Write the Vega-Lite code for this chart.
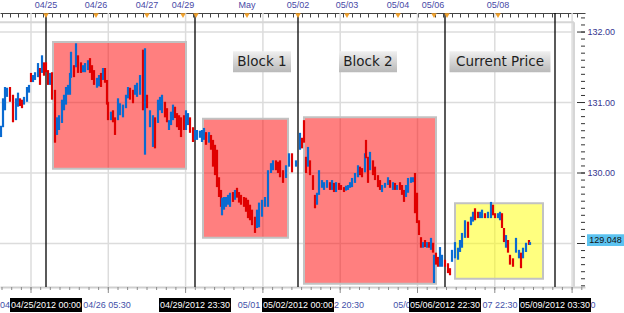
{
"$schema":"https://vega.github.io/schema/vega-lite/v6.json",
"width":585,"height":274,"autosize":"none",
"padding":{"left":0,"top":13,"right":39,"bottom":26},
"background":"#ffffff",
"config":{"view":{"stroke":null},"axis":{"labelFont":"Liberation Sans","labelFontSize":9}},
"datasets":{
"blk":[{"t0":53,"t1":186,"hi":131.86,"lo":130.06,"k":"r"},{"t0":203,"t1":288,"hi":130.77,"lo":129.08,"k":"r"},{"t0":304,"t1":436,"hi":130.79,"lo":128.43,"k":"r"},{"t0":455,"t1":543,"hi":129.57,"lo":128.50,"k":"y"}],
"ev":[{"t":46,"lab":"04/25/2012 00:00"},{"t":195,"lab":"04/29/2012 23:30"},{"t":298,"lab":"05/02/2012 00:00"},{"t":445,"lab":"05/06/2012 22:30"},{"t":555,"lab":"05/09/2012 03:30"}],
"bl":[{"t":5,"lab":"04"},{"t":107,"lab":"04/26 05:30"},{"t":249,"lab":"05/01"},{"t":349,"lab":"2 20:30"},{"t":402,"lab":"05/0"},{"t":500,"lab":"07 22:30"},{"t":593,"lab":"0"}],
"lbl":[{"t":262,"p":131.58,"lab":"Block 1"},{"t":368,"p":131.58,"lab":"Block 2"},{"t":500,"p":131.58,"lab":"Current Price"}],
"top":[{"t":46,"lab":"04/25"},{"t":96,"lab":"04/26"},{"t":147,"lab":"04/27"},{"t":183,"lab":"04/29"},{"t":247,"lab":"May"},{"t":298,"lab":"05/02"},{"t":347,"lab":"05/03"},{"t":398,"lab":"05/04"},{"t":433,"lab":"05/06"},{"t":498,"lab":"05/08"}],
"tri":[{"t":46},{"t":96},{"t":147},{"t":183},{"t":196},{"t":247},{"t":298},{"t":347},{"t":398},{"t":434},{"t":447},{"t":498}],
"xt":[{"t":2},{"t":11.7},{"t":21.4},{"t":31},{"t":40.7},{"t":50.3},{"t":60},{"t":69.7},{"t":79.3},{"t":89},{"t":98.6},{"t":108.3},{"t":118},{"t":127.6},{"t":137.3},{"t":147},{"t":156.6},{"t":166.3},{"t":175.9},{"t":185.6},{"t":195.3},{"t":204.9},{"t":214.6},{"t":224.3},{"t":233.9},{"t":243.6},{"t":253.2},{"t":262.9},{"t":272.6},{"t":282.2},{"t":291.9},{"t":301.6},{"t":311.2},{"t":320.9},{"t":330.5},{"t":340.2},{"t":349.9},{"t":359.5},{"t":369.2},{"t":378.9},{"t":388.5},{"t":398.2},{"t":407.8},{"t":417.5},{"t":427.2},{"t":436.8},{"t":446.5},{"t":456.2},{"t":465.8},{"t":475.5},{"t":485.1},{"t":494.8},{"t":504.5},{"t":514.1},{"t":523.8},{"t":533.5},{"t":543.1},{"t":552.8},{"t":562.4},{"t":572.1},{"t":581.8}],
"yt":[{"p":128.4},{"p":128.5},{"p":128.6},{"p":128.7},{"p":128.8},{"p":128.9},{"p":129},{"p":129.1},{"p":129.2},{"p":129.3},{"p":129.4},{"p":129.5},{"p":129.6},{"p":129.7},{"p":129.8},{"p":129.9},{"p":130},{"p":130.1},{"p":130.2},{"p":130.3},{"p":130.4},{"p":130.5},{"p":130.6},{"p":130.7},{"p":130.8},{"p":130.9},{"p":131},{"p":131.1},{"p":131.2},{"p":131.3},{"p":131.4},{"p":131.5},{"p":131.6},{"p":131.7},{"p":131.8},{"p":131.9},{"p":132},{"p":132.1},{"p":132.2}],
"last":[{"p":129.048}],
"px":[
{"t":1,"h":130.67,"l":130.51,"d":"u"},{"t":3,"h":131.06,"l":130.65,"d":"u"},{"t":5,"h":131.22,"l":130.89,"d":"u"},{"t":7,"h":131.21,"l":131.08,"d":"u"},{"t":10,"h":131.22,"l":131.01,"d":"d"},{"t":13,"h":131.11,"l":130.72,"d":"d"},{"t":16,"h":131.06,"l":130.75,"d":"u"},{"t":18,"h":131.14,"l":130.94,"d":"u"},{"t":20,"h":131.06,"l":130.95,"d":"d"},{"t":22,"h":131.04,"l":130.92,"d":"d"},{"t":24,"h":131.08,"l":130.97,"d":"u"},{"t":27,"h":131.22,"l":131.01,"d":"u"},{"t":29,"h":131.25,"l":131.14,"d":"u"},{"t":31,"h":131.42,"l":131.29,"d":"d"},{"t":33,"h":131.39,"l":131.29,"d":"u"},{"t":35,"h":131.43,"l":131.32,"d":"u"},{"t":38,"h":131.56,"l":131.36,"d":"u"},{"t":40,"h":131.49,"l":131.25,"d":"d"},{"t":42,"h":131.67,"l":131.42,"d":"u"},{"t":44,"h":131.57,"l":131.38,"d":"d"},{"t":46,"h":131.57,"l":131.43,"d":"d"},{"t":48,"h":131.46,"l":131.25,"d":"d"},{"t":50,"h":131.42,"l":131.25,"d":"u"},{"t":52,"h":131.43,"l":131.04,"d":"d"},{"t":55,"h":131.18,"l":130.43,"d":"d"},{"t":57,"h":130.79,"l":130.54,"d":"u"},{"t":59,"h":130.82,"l":130.61,"d":"u"},{"t":62,"h":131.04,"l":130.71,"d":"u"},{"t":64,"h":131.11,"l":130.89,"d":"u"},{"t":66,"h":131.22,"l":130.97,"d":"u"},{"t":68,"h":131.25,"l":131.11,"d":"u"},{"t":70,"h":131.42,"l":131.11,"d":"u"},{"t":71,"h":131.72,"l":131.35,"d":"u"},{"t":74,"h":131.53,"l":131.36,"d":"d"},{"t":76,"h":131.84,"l":131.50,"d":"u"},{"t":78,"h":131.67,"l":131.42,"d":"d"},{"t":81,"h":131.57,"l":131.42,"d":"d"},{"t":83,"h":131.53,"l":131.43,"d":"u"},{"t":85,"h":131.56,"l":131.43,"d":"u"},{"t":88,"h":131.60,"l":131.46,"d":"u"},{"t":90,"h":131.63,"l":131.42,"d":"d"},{"t":92,"h":131.53,"l":131.32,"d":"d"},{"t":94,"h":131.46,"l":131.25,"d":"d"},{"t":97,"h":131.35,"l":131.21,"d":"u"},{"t":99,"h":131.39,"l":131.23,"d":"u"},{"t":101,"h":131.42,"l":131.22,"d":"d"},{"t":103,"h":131.49,"l":131.32,"d":"u"},{"t":105,"h":131.49,"l":131.28,"d":"d"},{"t":107,"h":131.32,"l":130.97,"d":"d"},{"t":108,"h":131.01,"l":130.75,"d":"d"},{"t":111,"h":130.87,"l":130.75,"d":"u"},{"t":113,"h":130.89,"l":130.72,"d":"d"},{"t":115,"h":130.79,"l":130.54,"d":"d"},{"t":118,"h":131.06,"l":130.75,"d":"u"},{"t":120,"h":130.99,"l":130.82,"d":"u"},{"t":123,"h":130.97,"l":130.79,"d":"u"},{"t":126,"h":131.11,"l":130.92,"d":"u"},{"t":128,"h":131.22,"l":131.06,"d":"u"},{"t":130,"h":131.21,"l":131.04,"d":"d"},{"t":133,"h":131.18,"l":130.99,"d":"d"},{"t":135,"h":131.25,"l":131.11,"d":"u"},{"t":137,"h":131.28,"l":131.08,"d":"u"},{"t":140,"h":131.39,"l":131.11,"d":"u"},{"t":143,"h":131.75,"l":130.89,"d":"d"},{"t":145,"h":131.77,"l":130.26,"d":"u"},{"t":147,"h":131.11,"l":130.92,"d":"d"},{"t":150,"h":130.89,"l":130.65,"d":"u"},{"t":153,"h":130.82,"l":130.37,"d":"u"},{"t":155,"h":130.79,"l":130.35,"d":"d"},{"t":158,"h":131.04,"l":130.71,"d":"u"},{"t":160,"h":131.08,"l":130.89,"d":"u"},{"t":162,"h":131.11,"l":130.85,"d":"u"},{"t":165,"h":131.01,"l":130.79,"d":"d"},{"t":167,"h":130.92,"l":130.72,"d":"d"},{"t":169,"h":130.75,"l":130.61,"d":"u"},{"t":171,"h":130.87,"l":130.68,"d":"u"},{"t":173,"h":130.97,"l":130.75,"d":"u"},{"t":175,"h":130.94,"l":130.78,"d":"d"},{"t":177,"h":130.85,"l":130.65,"d":"d"},{"t":179,"h":130.82,"l":130.61,"d":"d"},{"t":181,"h":130.79,"l":130.51,"d":"d"},{"t":184,"h":130.82,"l":130.61,"d":"d"},{"t":186,"h":130.89,"l":130.61,"d":"u"},{"t":188,"h":130.85,"l":130.68,"d":"u"},{"t":190,"h":130.79,"l":130.57,"d":"d"},{"t":193,"h":130.65,"l":130.44,"d":"d"},{"t":195,"h":130.61,"l":130.47,"d":"u"},{"t":197,"h":130.61,"l":130.47,"d":"u"},{"t":200,"h":130.60,"l":130.50,"d":"u"},{"t":202,"h":130.61,"l":130.44,"d":"u"},{"t":204,"h":130.64,"l":130.47,"d":"u"},{"t":206,"h":130.58,"l":130.40,"d":"d"},{"t":209,"h":130.58,"l":130.43,"d":"u"},{"t":211,"h":130.54,"l":130.33,"d":"d"},{"t":213,"h":130.47,"l":130.09,"d":"d"},{"t":215,"h":130.40,"l":129.97,"d":"d"},{"t":217,"h":130.33,"l":129.80,"d":"d"},{"t":219,"h":129.94,"l":129.66,"d":"d"},{"t":221,"h":129.76,"l":129.52,"d":"d"},{"t":222,"h":129.65,"l":129.40,"d":"u"},{"t":224,"h":129.66,"l":129.48,"d":"u"},{"t":226,"h":129.66,"l":129.52,"d":"u"},{"t":228,"h":129.69,"l":129.55,"d":"u"},{"t":230,"h":129.72,"l":129.52,"d":"u"},{"t":233,"h":129.73,"l":129.59,"d":"d"},{"t":235,"h":129.76,"l":129.62,"d":"u"},{"t":237,"h":129.79,"l":129.65,"d":"d"},{"t":239,"h":129.73,"l":129.58,"d":"d"},{"t":241,"h":129.69,"l":129.55,"d":"d"},{"t":244,"h":129.66,"l":129.52,"d":"d"},{"t":246,"h":129.65,"l":129.45,"d":"d"},{"t":248,"h":129.62,"l":129.36,"d":"d"},{"t":250,"h":129.55,"l":129.33,"d":"d"},{"t":252,"h":129.48,"l":129.26,"d":"d"},{"t":255,"h":129.38,"l":129.15,"d":"d"},{"t":257,"h":129.48,"l":129.22,"d":"u"},{"t":259,"h":129.58,"l":129.23,"d":"u"},{"t":262,"h":129.62,"l":129.38,"d":"u"},{"t":265,"h":129.66,"l":129.52,"d":"u"},{"t":268,"h":130.04,"l":129.52,"d":"u"},{"t":271,"h":130.14,"l":130.00,"d":"u"},{"t":273,"h":130.18,"l":130.04,"d":"u"},{"t":276,"h":130.18,"l":130.04,"d":"d"},{"t":278,"h":130.16,"l":130.00,"d":"d"},{"t":280,"h":130.18,"l":129.94,"d":"d"},{"t":283,"h":130.04,"l":129.86,"d":"d"},{"t":286,"h":130.11,"l":129.93,"d":"u"},{"t":289,"h":130.28,"l":130.09,"d":"u"},{"t":292,"h":130.28,"l":130.01,"d":"d"},{"t":296,"h":130.18,"l":130.09,"d":"u"},{"t":300,"h":130.57,"l":130.33,"d":"u"},{"t":302,"h":130.50,"l":130.35,"d":"d"},{"t":304,"h":130.75,"l":130.43,"d":"d"},{"t":306,"h":130.23,"l":130.00,"d":"d"},{"t":308,"h":130.37,"l":130.09,"d":"u"},{"t":310,"h":130.18,"l":129.97,"d":"d"},{"t":313,"h":129.97,"l":129.76,"d":"d"},{"t":315,"h":129.69,"l":129.50,"d":"d"},{"t":317,"h":129.72,"l":129.55,"d":"u"},{"t":319,"h":130.04,"l":129.69,"d":"u"},{"t":322,"h":129.90,"l":129.79,"d":"u"},{"t":324,"h":129.87,"l":129.76,"d":"u"},{"t":327,"h":129.90,"l":129.79,"d":"u"},{"t":330,"h":129.87,"l":129.76,"d":"d"},{"t":332,"h":129.90,"l":129.76,"d":"u"},{"t":334,"h":129.86,"l":129.73,"d":"d"},{"t":336,"h":129.87,"l":129.73,"d":"u"},{"t":339,"h":129.86,"l":129.76,"d":"d"},{"t":341,"h":129.83,"l":129.76,"d":"d"},{"t":344,"h":129.80,"l":129.73,"d":"d"},{"t":346,"h":129.82,"l":129.75,"d":"u"},{"t":348,"h":129.83,"l":129.76,"d":"u"},{"t":350,"h":129.87,"l":129.79,"d":"u"},{"t":352,"h":129.93,"l":129.80,"d":"u"},{"t":355,"h":130.00,"l":129.86,"d":"u"},{"t":358,"h":130.11,"l":129.94,"d":"u"},{"t":360,"h":130.09,"l":129.97,"d":"d"},{"t":362,"h":130.07,"l":129.94,"d":"d"},{"t":365,"h":130.28,"l":130.01,"d":"u"},{"t":366,"h":130.47,"l":130.21,"d":"d"},{"t":368,"h":130.23,"l":129.86,"d":"d"},{"t":370,"h":130.30,"l":130.04,"d":"u"},{"t":373,"h":130.18,"l":129.97,"d":"d"},{"t":375,"h":130.09,"l":129.90,"d":"d"},{"t":378,"h":129.97,"l":129.80,"d":"d"},{"t":380,"h":129.90,"l":129.76,"d":"d"},{"t":382,"h":129.83,"l":129.73,"d":"u"},{"t":385,"h":129.86,"l":129.79,"d":"u"},{"t":388,"h":129.94,"l":129.83,"d":"u"},{"t":390,"h":129.90,"l":129.79,"d":"d"},{"t":393,"h":129.87,"l":129.76,"d":"u"},{"t":395,"h":129.86,"l":129.76,"d":"d"},{"t":397,"h":129.83,"l":129.76,"d":"u"},{"t":400,"h":129.87,"l":129.76,"d":"d"},{"t":402,"h":129.83,"l":129.69,"d":"d"},{"t":404,"h":129.76,"l":129.59,"d":"d"},{"t":406,"h":129.83,"l":129.66,"d":"u"},{"t":408,"h":129.93,"l":129.72,"d":"u"},{"t":411,"h":129.94,"l":129.86,"d":"u"},{"t":413,"h":129.94,"l":129.87,"d":"u"},{"t":415,"h":130.00,"l":129.43,"d":"d"},{"t":417,"h":129.72,"l":129.29,"d":"d"},{"t":419,"h":129.33,"l":129.12,"d":"d"},{"t":421,"h":129.09,"l":128.94,"d":"d"},{"t":423,"h":129.02,"l":128.94,"d":"u"},{"t":425,"h":129.05,"l":128.95,"d":"d"},{"t":427,"h":129.02,"l":128.94,"d":"u"},{"t":429,"h":129.02,"l":128.94,"d":"d"},{"t":431,"h":129.08,"l":128.91,"d":"u"},{"t":433,"h":129.01,"l":128.87,"d":"d"},{"t":434,"h":128.84,"l":128.44,"d":"u"},{"t":436,"h":128.87,"l":128.70,"d":"d"},{"t":438,"h":128.81,"l":128.67,"d":"d"},{"t":440,"h":128.95,"l":128.67,"d":"u"},{"t":442,"h":128.84,"l":128.67,"d":"u"},{"t":445,"h":128.77,"l":128.67,"d":"d"},{"t":448,"h":128.72,"l":128.58,"d":"d"},{"t":450,"h":128.65,"l":128.55,"d":"d"},{"t":452,"h":128.91,"l":128.74,"d":"u"},{"t":455,"h":129.02,"l":128.79,"d":"u"},{"t":458,"h":128.94,"l":128.77,"d":"u"},{"t":460,"h":129.05,"l":128.88,"d":"u"},{"t":462,"h":129.15,"l":128.94,"d":"u"},{"t":465,"h":129.33,"l":129.08,"d":"u"},{"t":468,"h":129.31,"l":129.08,"d":"d"},{"t":471,"h":129.38,"l":129.26,"d":"u"},{"t":473,"h":129.45,"l":129.31,"d":"u"},{"t":475,"h":129.50,"l":129.33,"d":"d"},{"t":478,"h":129.45,"l":129.36,"d":"d"},{"t":480,"h":129.45,"l":129.36,"d":"u"},{"t":482,"h":129.48,"l":129.36,"d":"u"},{"t":485,"h":129.43,"l":129.36,"d":"d"},{"t":488,"h":129.45,"l":129.36,"d":"u"},{"t":491,"h":129.59,"l":129.36,"d":"u"},{"t":493,"h":129.55,"l":129.40,"d":"d"},{"t":495,"h":129.43,"l":129.36,"d":"d"},{"t":498,"h":129.43,"l":129.36,"d":"u"},{"t":500,"h":129.45,"l":129.33,"d":"u"},{"t":502,"h":129.43,"l":129.22,"d":"d"},{"t":504,"h":129.22,"l":129.02,"d":"d"},{"t":506,"h":129.12,"l":128.94,"d":"u"},{"t":508,"h":129.05,"l":128.87,"d":"d"},{"t":510,"h":128.84,"l":128.70,"d":"d"},{"t":513,"h":128.79,"l":128.67,"d":"d"},{"t":516,"h":129.08,"l":128.87,"d":"u"},{"t":519,"h":128.91,"l":128.79,"d":"u"},{"t":521,"h":128.87,"l":128.65,"d":"d"},{"t":523,"h":128.94,"l":128.79,"d":"u"},{"t":526,"h":129.01,"l":128.88,"d":"u"},{"t":529,"h":129.05,"l":128.98,"d":"d"},{"t":530,"h":129.02,"l":128.98,"d":"u"}
]},
"resolve":{"axis":{"x":"independent"}},
"layer":[
{"data":{"name":"xt"},"transform":[{"filter":"indexof([31,108.3,185.6,262.9,340.2,417.5,494.8,572.1], datum.t) >= 0"}],
 "mark":{"type":"rule","color":"#dcdcdc","strokeWidth":1.5},
 "encoding":{"x":{"field":"t","type":"quantitative","scale":{"domain":[0,585],"nice":false,"zero":false},
   "axis":{"orient":"bottom","title":null,"values":[],"ticks":false,"labels":false,"grid":false,"domainColor":"#cfcfcf","domainWidth":2}}}},
{"data":{"name":"yt"},"transform":[{"filter":"abs(datum.p-round(datum.p))<0.01"}],
 "mark":{"type":"rule","color":"#dcdcdc","strokeWidth":1.5},
 "encoding":{"x":{"datum":0,"type":"quantitative","axis":null},"x2":{"datum":574},
  "y":{"field":"p","type":"quantitative","scale":{"domain":[128.383,132.27],"nice":false,"zero":false},
   "axis":{"orient":"right","title":null,"values":[],"ticks":false,"labels":false,"grid":false,"domainColor":"#333333"}}}},
{"data":{"name":"blk"},
 "mark":{"type":"rect","fillOpacity":0.5,"stroke":"#c2c2c2","strokeWidth":2},
 "encoding":{
  "x":{"field":"t0","type":"quantitative","axis":null},"x2":{"field":"t1"},
  "y":{"field":"hi","type":"quantitative","axis":null},"y2":{"field":"lo"},
  "fill":{"field":"k","type":"nominal","scale":{"domain":["r","y"],"range":["#ff0000","#ffff00"]},"legend":null}
 }},
{"data":{"values":[{}]},"mark":{"type":"rule","color":"#d6d6d6","strokeWidth":2},
 "encoding":{"x":{"datum":0,"type":"quantitative","axis":null},"x2":{"datum":574},"y":{"datum":132.14,"type":"quantitative","axis":null}}},
{"data":{"values":[{}]},"mark":{"type":"rule","color":"#d6d6d6","strokeWidth":2},
 "encoding":{"x":{"datum":574,"type":"quantitative","axis":null},"y":{"datum":128.383,"type":"quantitative","axis":null},"y2":{"datum":132.14}}},
{"data":{"name":"xt"},"mark":{"type":"rule","color":"#8a8a8a","strokeWidth":1},
 "encoding":{"x":{"field":"t","type":"quantitative","axis":null},"y":{"datum":128.383,"type":"quantitative","axis":null},"y2":{"datum":128.34}}},
{"data":{"name":"xt"},"transform":[{"filter":"indexof([31,108.3,185.6,262.9,340.2,417.5,494.8,572.1], datum.t) >= 0"}],
 "mark":{"type":"rule","color":"#8a8a8a","strokeWidth":1},
 "encoding":{"x":{"field":"t","type":"quantitative","axis":null},"y":{"datum":128.383,"type":"quantitative","axis":null},"y2":{"datum":128.298}}},
{"data":{"name":"yt"},"mark":{"type":"rule","color":"#333333","strokeWidth":1},
 "encoding":{"x":{"datum":581,"type":"quantitative","axis":null},"x2":{"datum":585},"y":{"field":"p","type":"quantitative","axis":null}}},
{"data":{"name":"yt"},"transform":[{"filter":"abs(datum.p-round(datum.p))<0.01"}],
 "mark":{"type":"rule","color":"#333333","strokeWidth":1},
 "encoding":{"x":{"datum":577,"type":"quantitative","axis":null},"x2":{"datum":585},"y":{"field":"p","type":"quantitative","axis":null}}},
{"data":{"name":"yt"},"transform":[{"filter":"abs(datum.p-round(datum.p))<0.01 && abs(datum.p-129)>0.01"}],
 "mark":{"type":"text","font":"Liberation Sans","fontSize":9,"color":"#35358f","align":"left","baseline":"middle"},
 "encoding":{"x":{"datum":587.5,"type":"quantitative","axis":null},"y":{"field":"p","type":"quantitative","axis":null},"text":{"field":"p","type":"quantitative","format":".2f"}}},
{"data":{"name":"ev"},"mark":{"type":"rule","color":"#000000","strokeWidth":1.3},
 "encoding":{"x":{"field":"t","type":"quantitative","axis":null}}},
{"data":{"name":"px"},"mark":{"type":"rule","strokeWidth":2.2},
 "encoding":{"x":{"field":"t","type":"quantitative","axis":null},"y":{"field":"h","type":"quantitative","axis":null},"y2":{"field":"l"},
  "color":{"field":"d","type":"nominal","scale":{"domain":["u","d"],"range":["#0a6bd1","#e00000"]},"legend":null}}},
{"data":{"name":"lbl"},"transform":[{"filter":"datum.lab != 'Current Price'"}],
 "mark":{"type":"point","shape":"M-1,-0.362H1V0.362H-1Z","size":3364,"filled":true,"opacity":1,"strokeWidth":0,
  "fill":{"gradient":"linear","x1":0,"y1":0,"x2":0,"y2":1,"stops":[{"offset":0,"color":"#f0f0f0"},{"offset":1,"color":"#b9b9b9"}]}},
 "encoding":{"x":{"field":"t","type":"quantitative","axis":null},"y":{"field":"p","type":"quantitative","axis":null}}},
{"data":{"name":"lbl"},"transform":[{"filter":"datum.lab == 'Current Price'"}],
 "mark":{"type":"point","shape":"M-1,-0.208H1V0.208H-1Z","size":10201,"filled":true,"opacity":1,"strokeWidth":0,
  "fill":{"gradient":"linear","x1":0,"y1":0,"x2":0,"y2":1,"stops":[{"offset":0,"color":"#f0f0f0"},{"offset":1,"color":"#b9b9b9"}]}},
 "encoding":{"x":{"field":"t","type":"quantitative","axis":null},"y":{"field":"p","type":"quantitative","axis":null}}},
{"data":{"name":"lbl"},"mark":{"type":"text","font":"DejaVu Sans","fontSize":13.5,"color":"#1e1e1e"},
 "encoding":{"x":{"field":"t","type":"quantitative","axis":null},"y":{"field":"p","type":"quantitative","axis":null},"text":{"field":"lab"}}},
{"data":{"name":"top"},"mark":{"type":"text","font":"Liberation Sans","fontSize":9,"color":"#4848a6"},
 "encoding":{"x":{"field":"t","type":"quantitative","axis":null},"y":{"datum":132.383,"type":"quantitative","axis":null},"text":{"field":"lab"}}},
{"data":{"name":"tri"},"mark":{"type":"point","shape":"triangle-down","size":30,"filled":true,"opacity":1,"color":"#f2a22c"},
 "encoding":{"x":{"field":"t","type":"quantitative",
   "axis":{"orient":"top","title":null,"labels":false,"grid":false,"tickSize":-4,"tickColor":"#444444","domainColor":"#444444",
    "values":[1.7,10,18.4,26.7,35,43.4,51.7,60,68.4,76.7,85,93.4,101.7,110,118.4,126.7,135,143.4,151.7,160,168.4,176.7,185,193.4,201.7,210,218.4,226.7,235,243.4,251.7,260,268.4,276.7,285,293.4,301.7,310,318.4,326.7,335,343.4,351.7,360,368.4,376.7,385,393.4,401.7,410,418.4,426.7,435,443.4,451.7,460,468.4,476.7,485,493.4,501.7,510,518.4,526.7,535,543.4,551.7,560,568.4,576.7]}},
  "y":{"datum":132.234,"type":"quantitative","axis":null}}},
{"data":{"name":"bl"},"mark":{"type":"text","font":"Liberation Sans","fontSize":9,"color":"#3f4fa8"},
 "encoding":{"x":{"field":"t","type":"quantitative","axis":null},"y":{"datum":128.128,"type":"quantitative","axis":null},"text":{"field":"lab"}}},
{"data":{"name":"ev"},"mark":{"type":"point","shape":"M-1,-0.194H1V0.194H-1Z","size":5184,"filled":true,"opacity":1,"color":"#000000"},
 "encoding":{"x":{"field":"t","type":"quantitative","axis":null},"y":{"datum":128.128,"type":"quantitative","axis":null}}},
{"data":{"name":"ev"},"mark":{"type":"text","font":"Liberation Sans","fontSize":9,"color":"#ffffff"},
 "encoding":{"x":{"field":"t","type":"quantitative","axis":null},"y":{"datum":128.128,"type":"quantitative","axis":null},"text":{"field":"lab"}}},
{"data":{"name":"last"},"mark":{"type":"point","shape":"M-1,-0.324H1V0.324H-1Z","size":1369,"filled":true,"opacity":1,"color":"#5cc3f0"},
 "encoding":{"x":{"datum":605.5,"type":"quantitative","axis":null},"y":{"field":"p","type":"quantitative","axis":null}}},
{"data":{"name":"last"},"mark":{"type":"text","font":"Liberation Sans","fontSize":9,"color":"#111111"},
 "encoding":{"x":{"datum":605.5,"type":"quantitative","axis":null},"y":{"field":"p","type":"quantitative","axis":null},"text":{"field":"p","type":"quantitative","format":".3f"}}}
]
}
